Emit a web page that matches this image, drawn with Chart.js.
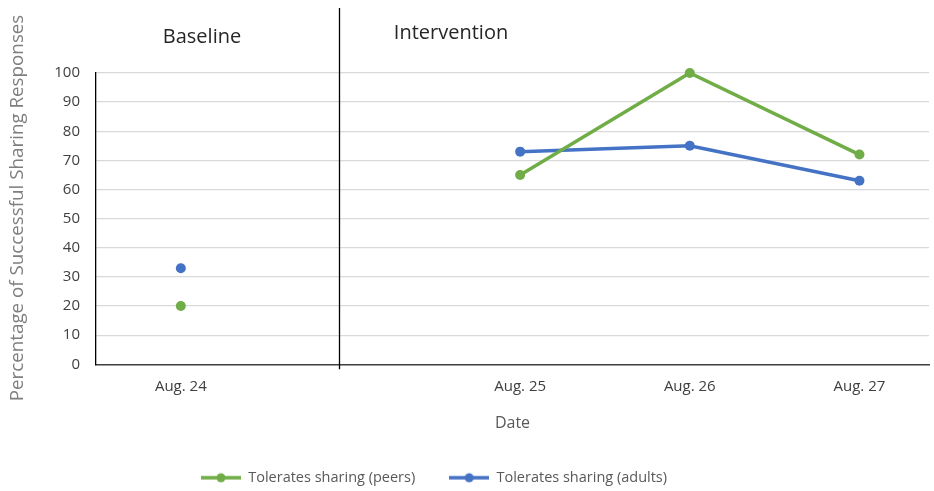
<!DOCTYPE html>
<html>
<head>
<meta charset="utf-8">
<script src="https://cdn.jsdelivr.net/npm/chart.js@4.4.1/dist/chart.umd.min.js"></script>
<style>
  html, body { margin: 0; padding: 0; background: #fff; }
  #wrap { width: 934px; height: 491px; }
</style>
</head>
<body>
<div id="wrap"><canvas id="chart"></canvas></div>
<script>
// 날짜 (1번 자리는 기초선/개입 사이 빈 칸)
var dates = ['Aug. 24', '', 'Aug. 25', 'Aug. 26', 'Aug. 27'];
var peers = [20, null, 65, 100, 72];
var adults = [33, null, 73, 75, 63];
var yTicks = [0, 10, 20, 30, 40, 50, 60, 70, 80, 90, 100];
var phaseNames = ['Baseline', 'Intervention'];
var yTitle = 'Percentage of Successful Sharing Responses';

var FONT = "'Open Sans', 'Noto Sans', sans-serif";
var GREEN = '#70AD47';
var BLUE = '#4472C4';

function toPoints(values) {
    return values.map(function (v, i) { return { x: i, y: v }; });
}

// 범례 아이콘: 선 + 점
function legendIcon(color) {
    var c = document.createElement('canvas');
    c.width = 40; c.height = 12;
    var g = c.getContext('2d');
    g.strokeStyle = color;
    g.lineWidth = 3.5;
    g.beginPath(); g.moveTo(0, 6); g.lineTo(40, 6); g.stroke();
    g.fillStyle = color;
    g.beginPath(); g.arc(20, 6, 4.5, 0, Math.PI * 2); g.fill();
    return c;
}
var icons = [legendIcon(GREEN), legendIcon(BLUE)];

// 구분선, 단계 이름, y축 제목
var phasePlugin = {
    id: 'phases',
    afterLayout: function (chart) {
        // 범례를 조금 왼쪽으로
        chart.legend.right -= 66;
    },
    afterDraw: function (chart) {
        var ctx = chart.ctx;
        var xs = chart.scales.x;
        var ys = chart.scales.y;
        var x = Math.round(xs.getPixelForValue(0.93)) + 0.5;
        ctx.save();
        ctx.strokeStyle = '#000';
        ctx.lineWidth = 1.3;
        ctx.beginPath();
        ctx.moveTo(x, 8);
        ctx.lineTo(x, ys.bottom + 5);
        ctx.stroke();
        ctx.fillStyle = '#262626';
        ctx.font = '20px ' + FONT;
        ctx.textAlign = 'center';
        ctx.textBaseline = 'middle';
        ctx.fillText(phaseNames[0], 202, 37);
        ctx.fillText(phaseNames[1], 451, 33);
        ctx.translate(18, 208);
        ctx.rotate(-Math.PI / 2);
        ctx.fillStyle = '#7f7f7f';
        ctx.font = '18.8px ' + FONT;
        ctx.fillText(yTitle, 0, 0);
        ctx.restore();
    }
};

new Chart(document.getElementById('chart'), {
    type: 'line',
    data: {
        datasets: [{
            label: 'Tolerates sharing (peers)',
            data: toPoints(peers),
            borderColor: GREEN,
            backgroundColor: GREEN,
            borderWidth: 3.5,
            pointRadius: 5,
            pointBorderWidth: 0,
            spanGaps: false,
            clip: false
        }, {
            label: 'Tolerates sharing (adults)',
            data: toPoints(adults),
            borderColor: BLUE,
            backgroundColor: BLUE,
            borderWidth: 3.5,
            pointRadius: 5,
            pointBorderWidth: 0,
            spanGaps: false,
            clip: false
        }]
    },
    options: {
        responsive: true,
        maintainAspectRatio: false,
        animation: false,
        layout: { padding: { top: 73, right: 0, bottom: -4, left: 0 } },
        plugins: {
            tooltip: { enabled: false },
            legend: {
                position: 'bottom',
                labels: {
                    usePointStyle: true,
                    pointStyleWidth: 40,
                    boxHeight: 12,
                    padding: 34,
                    color: '#595959',
                    font: { family: FONT, size: 14.5 },
                    generateLabels: function (chart) {
                        var items = Chart.defaults.plugins.legend.labels.generateLabels(chart);
                        items.forEach(function (it, i) { it.pointStyle = icons[i]; });
                        return items;
                    }
                }
            }
        },
        scales: {
            x: {
                type: 'linear',
                min: -0.5,
                max: 4.41,
                afterBuildTicks: function (axis) {
                    axis.ticks = [0, 2, 3, 4].map(function (v) { return { value: v }; });
                },
                ticks: {
                    autoSkip: false,
                    maxRotation: 0,
                    padding: 13,
                    color: '#404040',
                    font: { family: FONT, size: 15 },
                    callback: function (v) { return dates[v]; }
                },
                grid: { display: false, drawTicks: false },
                border: { color: '#404040', width: 1.5 },
                title: {
                    display: true,
                    text: 'Date',
                    color: '#595959',
                    font: { family: FONT, size: 16 },
                    padding: { top: 6, bottom: 3 }
                }
            },
            y: {
                min: 0,
                max: 100,
                afterBuildTicks: function (axis) {
                    axis.ticks = yTicks.map(function (v) { return { value: v }; });
                },
                afterFit: function (axis) { axis.width = 96; },
                ticks: {
                    padding: 16,
                    color: '#404040',
                    font: { family: FONT, size: 15 }
                },
                grid: { color: '#d9d9d9', lineWidth: 1.3, drawTicks: false },
                border: { color: '#000', width: 1.3 },
                title: { display: false }
            }
        }
    },
    plugins: [phasePlugin]
});
</script>
</body>
</html>
